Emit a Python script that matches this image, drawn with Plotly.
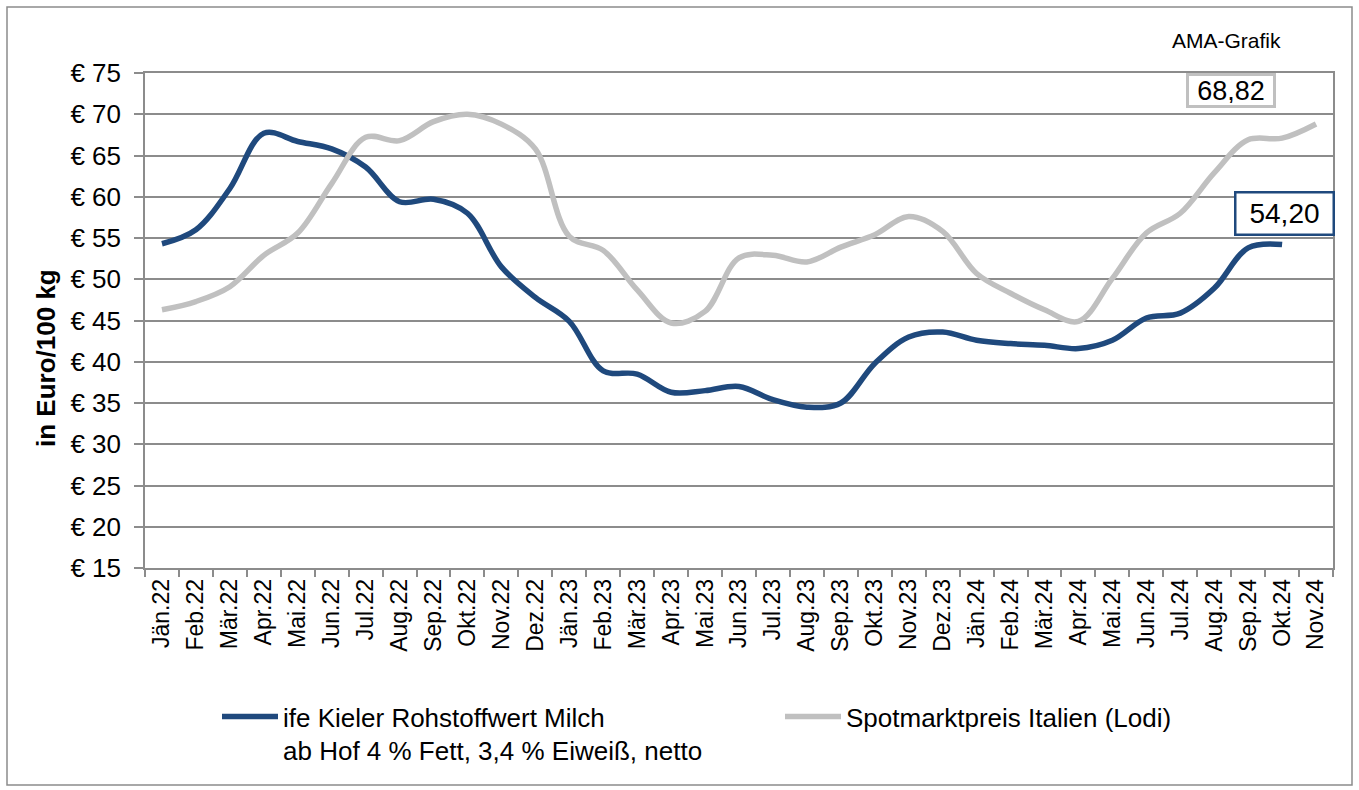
import plotly.graph_objects as go

months = ["Jän.22", "Feb.22", "Mär.22", "Apr.22", "Mai.22", "Jun.22", "Jul.22", "Aug.22",
          "Sep.22", "Okt.22", "Nov.22", "Dez.22", "Jän.23", "Feb.23", "Mär.23", "Apr.23",
          "Mai.23", "Jun.23", "Jul.23", "Aug.23", "Sep.23", "Okt.23", "Nov.23", "Dez.23",
          "Jän.24", "Feb.24", "Mär.24", "Apr.24", "Mai.24", "Jun.24", "Jul.24", "Aug.24",
          "Sep.24", "Okt.24", "Nov.24"]

kiel = [54.3, 56.0, 61.0, 67.7, 66.7, 65.8, 63.6, 59.4, 59.7, 58.0, 51.5, 47.8,
        44.9, 38.9, 38.5, 36.3, 36.5, 37.0, 35.4, 34.5, 35.0, 39.8, 43.0, 43.6,
        42.6, 42.2, 42.0, 41.6, 42.6, 45.3, 45.9, 48.9, 53.8, 54.20]

lodi = [46.3, 47.3, 49.1, 52.9, 55.6, 61.6, 67.2, 66.8, 69.1, 70.0, 68.8, 65.8,
        55.2, 53.5, 48.7, 44.7, 46.1, 52.6, 52.9, 52.1, 53.9, 55.4, 57.6, 55.8,
        50.7, 48.3, 46.3, 44.9, 50.1, 55.6, 58.0, 62.9, 66.9, 67.1, 68.82]

y_ticks = list(range(15, 80, 5))
y_labels = [f"€ {v}" for v in y_ticks]

BLUE = "#1F497D"
GRAY = "#C0C0C0"
GRID = "#8C8C8C"
FONT = "Liberation Sans, Arial, sans-serif"

fig = go.Figure()
fig.add_trace(go.Scatter(
    x=months[:len(kiel)], y=kiel, mode="lines",
    name="ife Kieler Rohstoffwert Milch<br>ab Hof 4 % Fett, 3,4 % Eiweiß, netto",
    line=dict(color=BLUE, width=5.5, shape="spline", smoothing=1.0),
    legend="legend",
))
fig.add_trace(go.Scatter(
    x=months, y=lodi, mode="lines",
    name="Spotmarktpreis Italien (Lodi)",
    line=dict(color=GRAY, width=5.5, shape="spline", smoothing=1.0),
    legend="legend2",
))

leg_common = dict(
    xanchor="left", yanchor="top", font=dict(size=26, family=FONT), valign="top",
    itemwidth=56, bgcolor="rgba(0,0,0,0)", borderwidth=0,
)

fig.update_layout(
    width=1359, height=790,
    margin=dict(l=145, r=26, t=73, b=222, autoexpand=False),
    paper_bgcolor="white", plot_bgcolor="white",
    font=dict(family=FONT, color="black", size=20),
    showlegend=True,
    legend=dict(x=(217 - 145) / 1188, y=(568 - 693) / 495, **leg_common),
    legend2=dict(x=(780 - 145) / 1188, y=(568 - 693) / 495, **leg_common),
    xaxis=dict(
        type="category", categoryorder="array", categoryarray=months,
        tickangle=-90, tickfont=dict(size=23, family=FONT),
        ticks="outside", tickson="boundaries", ticklen=7, tickcolor=GRID, tickwidth=1.5,
        showline=True, linecolor=GRID, linewidth=1.5, mirror=True,
        showgrid=False, range=[-0.5, len(months) - 0.5],
    ),
    yaxis=dict(
        range=[15, 75], tickvals=y_ticks, ticktext=y_labels,
        tickfont=dict(size=26, family=FONT),
        ticks="outside", ticklen=9, tickcolor=GRID, tickwidth=1.5,
        ticklabelstandoff=8,
        showline=True, linecolor=GRID, linewidth=1.5, mirror=True,
        showgrid=True, gridcolor=GRID, gridwidth=1.5, zeroline=False,
    ),
    shapes=[dict(
        type="rect", xref="paper", yref="paper",
        x0=(7 - 145) / 1188, x1=(1352 - 145) / 1188,
        y0=(568 - 785) / 495, y1=(568 - 7) / 495,
        line=dict(color="#8C8C8C", width=1.5), fillcolor="rgba(0,0,0,0)", layer="below",
    )],
    annotations=[
        dict(text="<b>in Euro/100 kg</b>", xref="paper", yref="paper",
             x=(46 - 145) / 1188, y=(568 - 358) / 495, showarrow=False,
             xanchor="center", yanchor="middle", textangle=-90,
             font=dict(size=26, family=FONT)),
        dict(text="AMA-Grafik", xref="paper", yref="paper",
             x=(1226 - 145) / 1188, y=(568 - 40) / 495, showarrow=False,
             xanchor="center", yanchor="middle",
             font=dict(size=21, family=FONT)),
        dict(text="68,82", xref="paper", yref="paper",
             x=(1230.5 - 145) / 1188, y=(568 - 90) / 495, showarrow=False,
             xanchor="center", yanchor="middle",
             font=dict(size=27, family=FONT), bgcolor="white",
             bordercolor=GRAY, borderwidth=3, borderpad=2, width=80, height=25),
        dict(text="54,20", xref="paper", yref="paper",
             x=(1284.5 - 145) / 1188, y=(568 - 213.5) / 495, showarrow=False,
             xanchor="center", yanchor="middle",
             font=dict(size=28, family=FONT), bgcolor="white",
             bordercolor=BLUE, borderwidth=2.5, borderpad=2,
             width=92, height=36, align="center"),
    ],
)

fig.write_html("out.html", config={"displayModeBar": False},
               post_script="document.body.style.margin='0px';")
